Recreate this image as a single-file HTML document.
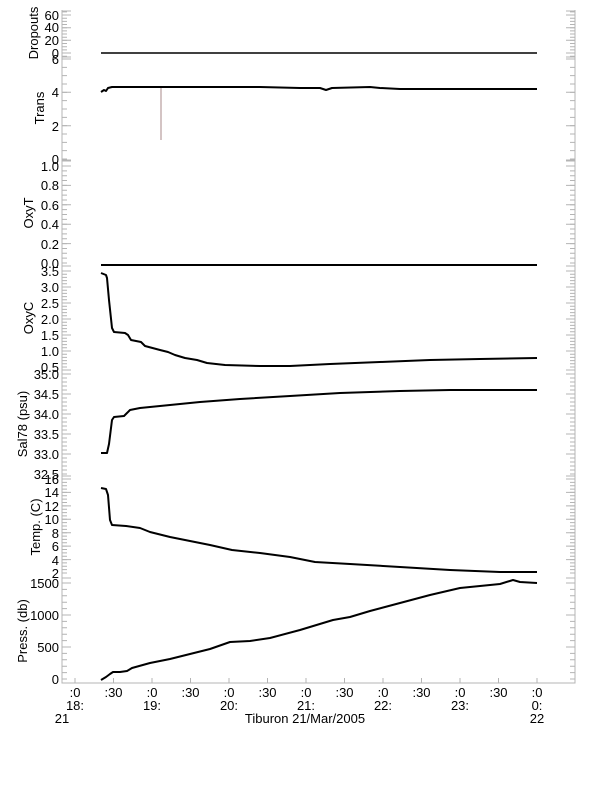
<!DOCTYPE html>
<html><head><meta charset="utf-8"><style>
body{margin:0;background:#fff;}
svg{display:block;font-family:"Liberation Sans",sans-serif;}
</style></head><body>
<svg width="612" height="785" xmlns="http://www.w3.org/2000/svg">
<rect width="612" height="785" fill="#fff"/>
<g stroke="#b4b4b4" stroke-width="1" fill="none">
<path d="M62,10V683H575V10"/>
<path d="M62,56.2h5m-5,-3.167h5m-5,-3.167h5m-5,-3.167h5m-5,-3.167h5m-5,-3.167h5m-5,-3.167h5m-5,-3.167h5m-5,-3.167h5m-5,-3.167h5m-5,-3.167h5m-5,-3.167h5m-5,-3.167h5m-5,-3.167h5m-5,-3.167h5"/>
<path d="M575,56.2h-5m5,-3.167h-5m5,-3.167h-5m5,-3.167h-5m5,-3.167h-5m5,-3.167h-5m5,-3.167h-5m5,-3.167h-5m5,-3.167h-5m5,-3.167h-5m5,-3.167h-5m5,-3.167h-5m5,-3.167h-5m5,-3.167h-5m5,-3.167h-5"/>
<path d="M62,159h5m-5,-8.333h5m-5,-8.333h5m-5,-8.333h5m-5,-8.333h5m-5,-8.333h5m-5,-8.333h5m-5,-8.333h5m-5,-8.333h5m-5,-8.333h5m-5,-8.333h5m-5,-8.333h5m-5,-8.333h5"/>
<path d="M575,159h-5m5,-8.333h-5m5,-8.333h-5m5,-8.333h-5m5,-8.333h-5m5,-8.333h-5m5,-8.333h-5m5,-8.333h-5m5,-8.333h-5m5,-8.333h-5m5,-8.333h-5m5,-8.333h-5m5,-8.333h-5"/>
<path d="M62,263h5m-5,-4.85h5m-5,-4.85h5m-5,-4.85h5m-5,-4.85h5m-5,-4.85h5m-5,-4.85h5m-5,-4.85h5m-5,-4.85h5m-5,-4.85h5m-5,-4.85h5m-5,-4.85h5m-5,-4.85h5m-5,-4.85h5m-5,-4.85h5m-5,-4.85h5m-5,-4.85h5m-5,-4.85h5m-5,-4.85h5m-5,-4.85h5m-5,-4.85h5"/>
<path d="M575,263h-5m5,-4.85h-5m5,-4.85h-5m5,-4.85h-5m5,-4.85h-5m5,-4.85h-5m5,-4.85h-5m5,-4.85h-5m5,-4.85h-5m5,-4.85h-5m5,-4.85h-5m5,-4.85h-5m5,-4.85h-5m5,-4.85h-5m5,-4.85h-5m5,-4.85h-5m5,-4.85h-5m5,-4.85h-5m5,-4.85h-5m5,-4.85h-5m5,-4.85h-5"/>
<path d="M62,367h5m-5,-3.2h5m-5,-3.2h5m-5,-3.2h5m-5,-3.2h5m-5,-3.2h5m-5,-3.2h5m-5,-3.2h5m-5,-3.2h5m-5,-3.2h5m-5,-3.2h5m-5,-3.2h5m-5,-3.2h5m-5,-3.2h5m-5,-3.2h5m-5,-3.2h5m-5,-3.2h5m-5,-3.2h5m-5,-3.2h5m-5,-3.2h5m-5,-3.2h5m-5,-3.2h5m-5,-3.2h5m-5,-3.2h5m-5,-3.2h5m-5,-3.2h5m-5,-3.2h5m-5,-3.2h5m-5,-3.2h5m-5,-3.2h5m-5,-3.2h5"/>
<path d="M575,367h-5m5,-3.2h-5m5,-3.2h-5m5,-3.2h-5m5,-3.2h-5m5,-3.2h-5m5,-3.2h-5m5,-3.2h-5m5,-3.2h-5m5,-3.2h-5m5,-3.2h-5m5,-3.2h-5m5,-3.2h-5m5,-3.2h-5m5,-3.2h-5m5,-3.2h-5m5,-3.2h-5m5,-3.2h-5m5,-3.2h-5m5,-3.2h-5m5,-3.2h-5m5,-3.2h-5m5,-3.2h-5m5,-3.2h-5m5,-3.2h-5m5,-3.2h-5m5,-3.2h-5m5,-3.2h-5m5,-3.2h-5m5,-3.2h-5m5,-3.2h-5"/>
<path d="M62,474h5m-5,-4h5m-5,-4h5m-5,-4h5m-5,-4h5m-5,-4h5m-5,-4h5m-5,-4h5m-5,-4h5m-5,-4h5m-5,-4h5m-5,-4h5m-5,-4h5m-5,-4h5m-5,-4h5m-5,-4h5m-5,-4h5m-5,-4h5m-5,-4h5m-5,-4h5m-5,-4h5m-5,-4h5m-5,-4h5m-5,-4h5m-5,-4h5m-5,-4h5"/>
<path d="M575,474h-5m5,-4h-5m5,-4h-5m5,-4h-5m5,-4h-5m5,-4h-5m5,-4h-5m5,-4h-5m5,-4h-5m5,-4h-5m5,-4h-5m5,-4h-5m5,-4h-5m5,-4h-5m5,-4h-5m5,-4h-5m5,-4h-5m5,-4h-5m5,-4h-5m5,-4h-5m5,-4h-5m5,-4h-5m5,-4h-5m5,-4h-5m5,-4h-5m5,-4h-5"/>
<path d="M62,573h5m-5,-3.357h5m-5,-3.357h5m-5,-3.357h5m-5,-3.357h5m-5,-3.357h5m-5,-3.357h5m-5,-3.357h5m-5,-3.357h5m-5,-3.357h5m-5,-3.357h5m-5,-3.357h5m-5,-3.357h5m-5,-3.357h5m-5,-3.357h5m-5,-3.357h5m-5,-3.357h5m-5,-3.357h5m-5,-3.357h5m-5,-3.357h5m-5,-3.357h5m-5,-3.357h5m-5,-3.357h5m-5,-3.357h5m-5,-3.357h5m-5,-3.357h5m-5,-3.357h5m-5,-3.357h5m-5,-3.357h5"/>
<path d="M575,573h-5m5,-3.357h-5m5,-3.357h-5m5,-3.357h-5m5,-3.357h-5m5,-3.357h-5m5,-3.357h-5m5,-3.357h-5m5,-3.357h-5m5,-3.357h-5m5,-3.357h-5m5,-3.357h-5m5,-3.357h-5m5,-3.357h-5m5,-3.357h-5m5,-3.357h-5m5,-3.357h-5m5,-3.357h-5m5,-3.357h-5m5,-3.357h-5m5,-3.357h-5m5,-3.357h-5m5,-3.357h-5m5,-3.357h-5m5,-3.357h-5m5,-3.357h-5m5,-3.357h-5m5,-3.357h-5m5,-3.357h-5"/>
<path d="M62,679h5m-5,-6.4h5m-5,-6.4h5m-5,-6.4h5m-5,-6.4h5m-5,-6.4h5m-5,-6.4h5m-5,-6.4h5m-5,-6.4h5m-5,-6.4h5m-5,-6.4h5m-5,-6.4h5m-5,-6.4h5m-5,-6.4h5m-5,-6.4h5m-5,-6.4h5"/>
<path d="M575,679h-5m5,-6.4h-5m5,-6.4h-5m5,-6.4h-5m5,-6.4h-5m5,-6.4h-5m5,-6.4h-5m5,-6.4h-5m5,-6.4h-5m5,-6.4h-5m5,-6.4h-5m5,-6.4h-5m5,-6.4h-5m5,-6.4h-5m5,-6.4h-5m5,-6.4h-5"/>
<path d="M62,11h9M62,57h9M62,160h9M62,161h9M62,266h9M62,370h9M62,476h9M62,578h9M62,683h9
M62,53h9M62,40.3h9M62,27.7h9M62,15h9
M62,125.7h9M62,92.3h9M62,59h9
M62,243.6h9M62,224.2h9M62,204.8h9M62,185.4h9M62,166h9
M62,351h9M62,335h9M62,319h9M62,303h9M62,287h9M62,271h9
M62,454h9M62,434h9M62,414h9M62,394h9M62,374h9
M62,559.6h9M62,546.1h9M62,532.7h9M62,519.3h9M62,505.9h9M62,492.4h9M62,479h9
M62,647h9M62,615h9M62,583h9"/>
<path d="M575,11h-9M575,57h-9M575,160h-9M575,161h-9M575,266h-9M575,370h-9M575,476h-9M575,578h-9
M575,53h-9M575,40.3h-9M575,27.7h-9M575,15h-9
M575,125.7h-9M575,92.3h-9M575,59h-9
M575,243.6h-9M575,224.2h-9M575,204.8h-9M575,185.4h-9M575,166h-9
M575,351h-9M575,335h-9M575,319h-9M575,303h-9M575,287h-9M575,271h-9
M575,454h-9M575,434h-9M575,414h-9M575,394h-9M575,374h-9
M575,559.6h-9M575,546.1h-9M575,532.7h-9M575,519.3h-9M575,505.9h-9M575,492.4h-9M575,479h-9
M575,647h-9M575,615h-9M575,583h-9"/>
<path d="M75,683v-5M113.5,683v-5M152,683v-5M190.5,683v-5M229,683v-5M267.5,683v-5M306,683v-5M344.5,683v-5M383,683v-5M421.5,683v-5M460,683v-5M498.5,683v-5M537,683v-5"/>
</g>
<g fill="none" stroke="#000" stroke-width="2" stroke-linejoin="round">
<line x1="101" y1="53" x2="537" y2="53" stroke-width="1.5"/>
<polyline points="101,92 104,90 106,91 108,88 112,87 150,87 200,87 260,87 300,88 320,88 326,90 332,88 370,87 380,88 400,89 450,89 500,89 537,89"/>
<line x1="161" y1="88" x2="161" y2="140" stroke="#a88" stroke-width="1"/>
<line x1="101" y1="265" x2="537" y2="265"/>
<polyline points="101,273 106,275 107,278 109,300 112,328 114,332 125,333 128,335 131,340 141,342 145,346 160,350 168,352 175,355 185,358 197,360 207,363 225,365 260,366 290,366 330,364 380,362 430,360 480,359 537,358"/>
<polyline points="101,453 107,453 109,444 112,420 114,417 124,416 127,413 130,410 140,408 160,406 180,404 200,402 240,399 290,396 340,393 400,391 450,390 500,390 537,390"/>
<polyline points="101,488 106,489 108,495 110,520 112,525 126,526 140,528 150,532 170,537 190,541 210,545 232,550 260,553 290,557 315,562 350,564 400,567 450,570 500,572 537,572"/>
<polyline points="101,680 106,677 110,674 113,672 120,672 127,671 132,668 150,663 170,659 190,654 210,649 230,642 250,641 270,638 300,630 333,620 350,617 370,611 400,603 430,595 460,588 480,586 500,584 513,580 520,582 537,583"/>
</g>
<g font-size="13" fill="#000" text-anchor="end">
<text x="59" y="58">0</text><text x="59" y="45">20</text><text x="59" y="32">40</text><text x="59" y="20">60</text>
<text x="59" y="164">0</text><text x="59" y="131">2</text><text x="59" y="97">4</text><text x="59" y="64">6</text>
<text x="59" y="268">0.0</text><text x="59" y="249">0.2</text><text x="59" y="229">0.4</text><text x="59" y="210">0.6</text><text x="59" y="190">0.8</text><text x="59" y="171">1.0</text>
<text x="59" y="372">0.5</text><text x="59" y="356">1.0</text><text x="59" y="340">1.5</text><text x="59" y="324">2.0</text><text x="59" y="308">2.5</text><text x="59" y="292">3.0</text><text x="59" y="276">3.5</text>
<text x="59" y="479">32.5</text><text x="59" y="459">33.0</text><text x="59" y="439">33.5</text><text x="59" y="419">34.0</text><text x="59" y="399">34.5</text><text x="59" y="379">35.0</text>
<text x="59" y="578">2</text><text x="59" y="565">4</text><text x="59" y="551">6</text><text x="59" y="538">8</text><text x="59" y="524">10</text><text x="59" y="511">12</text><text x="59" y="497">14</text><text x="59" y="484">16</text>
<text x="59" y="684">0</text><text x="59" y="652">500</text><text x="59" y="620">1000</text><text x="59" y="588">1500</text>
</g>
<g font-size="13" fill="#000" text-anchor="middle">
<text transform="translate(38,33) rotate(-90)">Dropouts</text>
<text transform="translate(44,108) rotate(-90)">Trans</text>
<text transform="translate(33,213) rotate(-90)">OxyT</text>
<text transform="translate(33,318) rotate(-90)">OxyC</text>
<text transform="translate(27,424) rotate(-90)">Sal78 (psu)</text>
<text transform="translate(40,527) rotate(-90)">Temp. (C)</text>
<text transform="translate(27,631) rotate(-90)">Press. (db)</text>
<text x="305" y="723">Tiburon 21/Mar/2005</text>
<text x="75" y="697">:0</text><text x="113.5" y="697">:30</text><text x="152" y="697">:0</text><text x="190.5" y="697">:30</text><text x="229" y="697">:0</text><text x="267.5" y="697">:30</text><text x="306" y="697">:0</text><text x="344.5" y="697">:30</text><text x="383" y="697">:0</text><text x="421.5" y="697">:30</text><text x="460" y="697">:0</text><text x="498.5" y="697">:30</text><text x="537" y="697">:0</text>
<text x="75" y="710">18:</text><text x="152" y="710">19:</text><text x="229" y="710">20:</text><text x="306" y="710">21:</text><text x="383" y="710">22:</text><text x="460" y="710">23:</text><text x="537" y="710">0:</text>
<text x="62" y="723">21</text><text x="537" y="723">22</text>
</g>
</svg>
</body></html>
